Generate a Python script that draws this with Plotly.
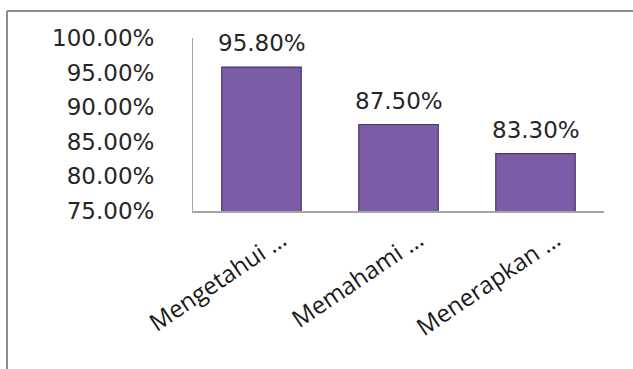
import plotly.graph_objects as go

categories = ["Mengetahui …", "Memahami …", "Menerapkan …"]
values = [95.8, 87.5, 83.3]
value_labels = ["95.80%", "87.50%", "83.30%"]
y_ticks = [75, 80, 85, 90, 95, 100]
y_tick_labels = ["75.00%", "80.00%", "85.00%", "90.00%", "95.00%", "100.00%"]

W, H = 633, 369
L, R, T, B = 193, 29, 38, 158
pw, ph = W - L - R, H - T - B

def px(x):
    return (x - L) / pw

def py(y):
    return (H - B - y) / ph

fig = go.Figure()
fig.add_trace(go.Bar(
    x=categories, y=values, base=0,
    marker=dict(color="#7b5ca6", line=dict(color="#4a3569", width=1.2)),
    hoverinfo="skip",
))

for c, v, t in zip(categories, values, value_labels):
    fig.add_annotation(x=c, y=v, text=t, showarrow=False, yanchor="bottom",
                       yshift=9, font=dict(family="DejaVu Sans", size=23, color="#262626"))

# outer frame (top and left edges)
fig.add_shape(type="line", xref="paper", yref="paper", x0=px(7), x1=px(633), y0=py(11), y1=py(11),
              line=dict(color="#8c8c8c", width=2))
fig.add_shape(type="line", xref="paper", yref="paper", x0=px(7), x1=px(7), y0=py(11), y1=py(369),
              line=dict(color="#8c8c8c", width=2))

fig.update_layout(
    width=W, height=H,
    margin=dict(l=L, r=R, t=T, b=B, pad=0),
    paper_bgcolor="white", plot_bgcolor="white",
    bargap=0.42, showlegend=False,
    font=dict(family="DejaVu Sans", color="#262626"),
)
fig.update_yaxes(range=[75, 100], tickvals=y_ticks, ticktext=y_tick_labels,
                 showgrid=False, zeroline=False, showline=True, linecolor="#a6a6a6", linewidth=1,
                 ticks="", ticklabelstandoff=33, tickfont=dict(family="DejaVu Sans", size=23, color="#262626"))
fig.update_xaxes(showgrid=False, zeroline=False, showline=True, linecolor="#a6a6a6", linewidth=1.5,
                 ticks="", tickangle=-34, ticklabelshift=20, ticklabelstandoff=4,
                 tickfont=dict(family="Open Sans", size=24, color="#1a1a1a"))

fig.write_html("out.html")
